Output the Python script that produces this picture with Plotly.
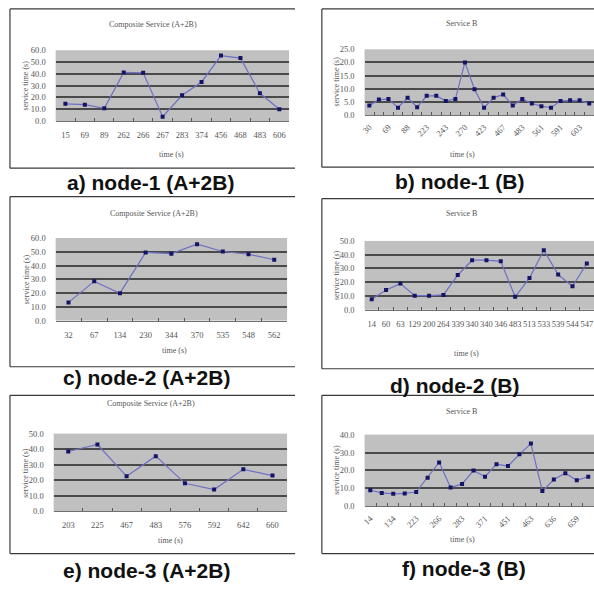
import plotly.graph_objects as go

W, H = 594, 591

# ---- data -------------------------------------------------------------
# a) node-1, composite service (A+2B)
a_times = ["15", "69", "89", "262", "266", "267", "283", "374", "456", "468", "483", "606"]
a_values = [14.6, 13.8, 10.8, 41.2, 40.9, 3.6, 21.8, 33.1, 55.5, 53.3, 23.5, 9.9]

# b) node-1, service B (every other time label is printed)
b_times = ["30", "69", "88", "223", "243", "270", "423", "467", "483", "561", "591", "603"]
b_values = [3.6, 5.9, 6.1, 2.8, 6.6, 3.0, 7.3, 7.3, 5.4, 6.1, 20.0, 9.8,
            2.8, 6.6, 7.8, 3.6, 6.1, 4.4, 3.4, 2.8, 5.4, 5.6, 5.6, 4.4]

# c) node-2, composite service (A+2B)
c_times = ["32", "67", "134", "230", "344", "370", "535", "548", "562"]
c_values = [13.2, 28.5, 19.9, 49.5, 48.6, 55.5, 50.2, 48.2, 44.2]

# d) node-2, service B
d_times = ["14", "60", "63", "129", "200", "264", "339", "340", "340", "346",
           "483", "513", "533", "539", "544", "547"]
d_values = [7.6, 14.3, 19.0, 10.2, 10.2, 10.8, 25.2, 36.0, 36.0, 35.2,
            9.4, 23.0, 43.2, 25.6, 17.0, 33.6]

# e) node-3, composite service (A+2B)
e_times = ["203", "225", "467", "483", "576", "592", "642", "660"]
e_values = [38.5, 43.0, 22.5, 35.5, 18.0, 14.0, 27.0, 23.0]

# f) node-3, service B (every other time label is printed)
f_times = ["14", "134", "223", "266", "283", "371", "451", "463", "636", "659"]
f_values = [9.0, 7.5, 7.0, 7.2, 8.0, 16.0, 24.5, 10.5, 12.5, 20.0,
            16.5, 23.5, 22.5, 29.0, 35.0, 8.5, 15.0, 18.5, 14.5, 16.5]

# ---- panel layout (pixel boxes) ----------------------------------------
panels = [
    dict(v=a_values, t=a_times, step=1, ymax=60, dt=10, box=(52, 287, 46, 118), ang=0,
         title="Composite Service (A+2B)", title_xy=(150, 20), xt_xy=(169, 152),
         yt_xy=(22, 82), cap="a) node-1 (A+2B)", cap_xy=(147, 181),
         frame=(6, 293, 4, 166)),
    dict(v=b_values, t=b_times, step=2, ymax=25, dt=5, box=(363, 596, 45, 112), ang=-45,
         title="Service B", title_xy=(461, 19), xt_xy=(462, 152),
         yt_xy=(335, 78), cap="b) node-1 (B)", cap_xy=(459, 180),
         frame=(320, 600, 4, 165)),
    dict(v=c_values, t=c_times, step=1, ymax=60, dt=10, box=(52, 285, 237, 321), ang=0,
         title="Composite Service (A+2B)", title_xy=(151, 212), xt_xy=(172, 351),
         yt_xy=(22, 279), cap="c) node-2 (A+2B)", cap_xy=(143, 379),
         frame=(6, 293, 195, 368)),
    dict(v=d_values, t=d_times, step=1, ymax=50, dt=10, box=(363, 596, 240, 310), ang=0,
         title="Service B", title_xy=(461, 212), xt_xy=(466, 355),
         yt_xy=(335, 275), cap="d) node-2 (B)", cap_xy=(454, 387),
         frame=(320, 600, 197, 370)),
    dict(v=e_values, t=e_times, step=1, ymax=50, dt=10, box=(50, 285, 436, 515), ang=0,
         title="Composite Service (A+2B)", title_xy=(148, 405), xt_xy=(168, 545),
         yt_xy=(22, 476), cap="e) node-3 (A+2B)", cap_xy=(143, 575),
         frame=(6, 293, 397, 558)),
    dict(v=f_values, t=f_times, step=2, ymax=40, dt=10, box=(363, 596, 437, 510), ang=-45,
         title="Service B", title_xy=(461, 413), xt_xy=(462, 544),
         yt_xy=(335, 473), cap="f) node-3 (B)", cap_xy=(463, 573),
         frame=(320, 600, 397, 558)),
]

SERIF = "Liberation Serif"
SANS = "Liberation Sans"
LINE_COLOR = "#6f6fc4"
MARK_COLOR = "#141466"
GRID = "#4a4a4a"
PLOT_BG = "#c0c0c0"
TXT = "#555555"


def px(x):
    return x / W


def py(y):
    return 1 - y / H


fig = go.Figure()
layout = dict(
    width=W, height=H, margin=dict(l=0, r=0, t=0, b=0),
    paper_bgcolor="white", plot_bgcolor=PLOT_BG, showlegend=False,
    shapes=[], annotations=[],
)

for i, p in enumerate(panels, start=1):
    n = len(p["v"])
    xs = list(range(n))
    xa = "x" if i == 1 else f"x{i}"
    ya = "y" if i == 1 else f"y{i}"
    fig.add_trace(go.Scatter(
        x=xs, y=p["v"], mode="lines+markers", xaxis=xa, yaxis=ya,
        line=dict(color=LINE_COLOR, width=1.2),
        marker=dict(symbol="square", size=4, color=MARK_COLOR),
        hoverinfo="skip",
    ))
    x0, x1, y0, y1 = p["box"]
    x1 = min(x1, W)
    tickvals = list(range(0, n, p["step"]))
    layout[f"xaxis{i if i > 1 else ''}"] = dict(
        domain=[px(x0), px(x1)], anchor=ya, range=[-0.5, n - 0.5],
        tickmode="array", tickvals=tickvals, ticktext=p["t"][: len(tickvals)],
        tickangle=p["ang"], ticks="", showgrid=False, zeroline=False,
        showline=True, linecolor="#707070", linewidth=1,
        tickfont=dict(family=SERIF, size=8.5, color=TXT),
        ticklabelstandoff=6 if p["ang"] == 0 else 3,
        minor=dict(tickvals=[k - 0.5 for k in range(1, n)], ticks="inside",
                   ticklen=3, tickcolor="#555555", tickwidth=1, showgrid=False),
        fixedrange=True,
    )
    layout[f"yaxis{i if i > 1 else ''}"] = dict(
        domain=[py(y1), py(y0)], anchor=xa, range=[0, p["ymax"]],
        tick0=0, dtick=p["dt"], tickformat=".1f", ticks="",
        showgrid=True, gridcolor=GRID, gridwidth=1.8, zeroline=False,
        showline=False, tickfont=dict(family=SERIF, size=8.5, color=TXT),
        ticklabelstandoff=9, fixedrange=True,
    )

    # outer chart frame (left, top, bottom edges)
    fx0, fx1, fy0, fy1 = p["frame"]
    for (ax0, ay0, ax1, ay1) in [(fx0, fy0, fx1, fy0), (fx0, fy1, fx1, fy1), (fx0, fy0, fx0, fy1)]:
        layout["shapes"].append(dict(
            type="line", xref="paper", yref="paper",
            x0=px(ax0), y0=py(ay0), x1=px(ax1), y1=py(ay1),
            line=dict(color="#3a3a3a", width=1.2),
        ))

    def ann(text, xy, size, family=SERIF, color=TXT, angle=0, bold=False):
        layout["annotations"].append(dict(
            text=f"<b>{text}</b>" if bold else text,
            xref="paper", yref="paper", x=px(xy[0]), y=py(xy[1]),
            xanchor="center", yanchor="middle", showarrow=False,
            textangle=angle, font=dict(family=family, size=size, color=color),
        ))

    ann(p["title"], p["title_xy"], 8)
    ann("time (s)", p["xt_xy"], 8)
    ann("service time (s)", p["yt_xy"], 8, angle=-90)
    ann(p["cap"], p["cap_xy"], 21, family=SANS, color="#111111", bold=True)

fig.update_layout(**layout)
fig.write_html("out.html")
